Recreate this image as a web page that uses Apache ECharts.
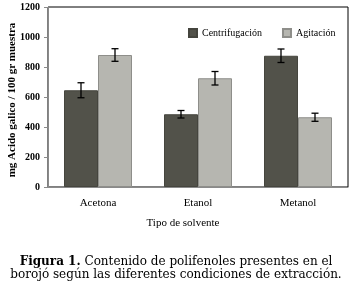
<!DOCTYPE html>
<html>
<head>
<meta charset="utf-8">
<script src="https://cdn.jsdelivr.net/npm/echarts@6/dist/echarts.min.js"></script>
<style>
  html, body { margin: 0; padding: 0; background: #fff; }
  #chart { width: 354px; height: 296px; }
</style>
</head>
<body>
<div id="chart"></div>
<script>
// datos
const solventes = ["Acetona", "Etanol", "Metanol"];
const centrifugacion = [645, 485, 875];
const errCentrifugacion = [50, 25, 45];
const agitacion = [880, 725, 465];
const errAgitacion = [42, 45, 27];
const yTicks = [0, 200, 400, 600, 800, 1000, 1200];

const serif = "Liberation Serif";
const capSerif = "DejaVu Serif";

// datos de barras de error: [categoria, valor, error]
function errData(vals, errs) {
  return vals.map((v, i) => [i, v, errs[i]]);
}

function errorBar(sign) {
  return function (params, api) {
    const bandW = api.size([1, 0])[0];
    const c = api.coord([api.value(0), api.value(1)]);
    const x = c[0] + sign * bandW * 0.17;
    const top = api.coord([api.value(0), api.value(1) + api.value(2)])[1];
    const bot = api.coord([api.value(0), api.value(1) - api.value(2)])[1];
    const style = { stroke: "#000", lineWidth: 1.3 };
    return {
      type: "group",
      children: [
        { type: "line", shape: { x1: x, y1: top, x2: x, y2: bot }, style: style },
        { type: "line", shape: { x1: x - 3.5, y1: top, x2: x + 3.5, y2: top }, style: style },
        { type: "line", shape: { x1: x - 3.5, y1: bot, x2: x + 3.5, y2: bot }, style: style },
      ],
    };
  };
}

var myChart = echarts.init(document.getElementById("chart"));
var option = {
  animation: false,
  grid: {
    left: 48,
    right: 6,
    top: 7,
    bottom: 109,
    outerBoundsMode: "none",
    containLabel: false,
    show: true,
    borderColor: "#000",
    borderWidth: 1,
  },
  legend: {
    left: 183,
    top: 23,
    icon: "rect",
    itemWidth: 8,
    itemHeight: 8,
    itemGap: 20,
    textStyle: { fontFamily: serif, fontSize: 10, color: "#000" },
    data: ["Centrifugación", "Agitación"],
  },
  xAxis: {
    type: "category",
    data: solventes,
    axisLine: { lineStyle: { color: "#8a8a8a", width: 1 } },
    axisTick: { length: 4, lineStyle: { color: "#8a8a8a" } },
    axisLabel: { fontFamily: serif, fontSize: 11, color: "#000", margin: 11 },
  },
  yAxis: {
    type: "value",
    min: 0,
    max: 1200,
    interval: 200,
    splitLine: { show: false },
    axisLine: { show: true, lineStyle: { color: "#8a8a8a", width: 1 } },
    axisTick: { show: true, length: 4, lineStyle: { color: "#8a8a8a" } },
    axisLabel: {
      fontFamily: serif,
      fontSize: 10,
      fontWeight: "bold",
      color: "#000",
      margin: 8,
      formatter: (v) => (yTicks.includes(v) ? String(v) : ""),
    },
  },
  series: [
    {
      name: "Centrifugación",
      type: "bar",
      data: centrifugacion,
      barGap: "0%",
      barCategoryGap: "32%",
      itemStyle: { color: "#52524a", borderColor: "#45453e", borderWidth: 1 },
    },
    {
      name: "Agitación",
      type: "bar",
      data: agitacion,
      barGap: "0%",
      barCategoryGap: "32%",
      itemStyle: { color: "#b6b6b0", borderColor: "#8e8e8a", borderWidth: 1 },
    },
    {
      type: "custom",
      renderItem: errorBar(-1),
      data: errData(centrifugacion, errCentrifugacion),
      z: 10,
    },
    {
      type: "custom",
      renderItem: errorBar(1),
      data: errData(agitacion, errAgitacion),
      z: 10,
    },
  ],
  graphic: [
    {
      // titulo del eje y
      type: "text",
      x: 12,
      y: 100,
      rotation: Math.PI / 2,
      style: {
        text: "mg Acido galico / 100 gr muestra",
        fontFamily: serif,
        fontSize: 11,
        fontWeight: "bold",
        fill: "#000",
        textAlign: "center",
        textVerticalAlign: "middle",
      },
    },
    {
      type: "text",
      x: 183,
      y: 223,
      style: {
        text: "Tipo de solvente",
        fontFamily: serif,
        fontSize: 11,
        fill: "#000",
        textAlign: "center",
        textVerticalAlign: "middle",
      },
    },
    {
      type: "text",
      x: 176,
      y: 268,
      style: {
        text: "{b|Figura 1.} Contenido de polifenoles presentes en el\nborojó según las diferentes condiciones de extracción.",
        fontFamily: capSerif,
        fontSize: 12,
        fill: "#000",
        textAlign: "center",
        textVerticalAlign: "middle",
        lineHeight: 13,
        rich: {
          b: { fontWeight: "bold", fontSize: 12, fontFamily: capSerif },
        },
      },
    },
  ],
};
option && myChart.setOption(option, true);
</script>
</body>
</html>
